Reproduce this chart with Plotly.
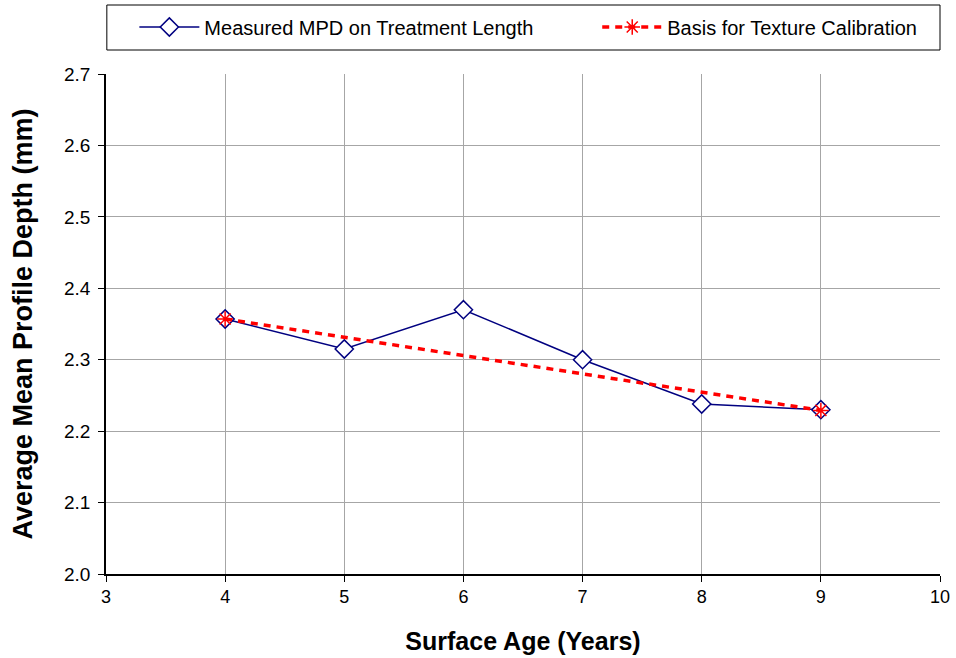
import plotly.graph_objects as go

# Data
age_measured = [4, 5, 6, 7, 8, 9]
mpd_measured = [2.357, 2.315, 2.370, 2.300, 2.238, 2.230]
age_basis = [4, 9]
mpd_basis = [2.357, 2.229]
x_ticks = [3, 4, 5, 6, 7, 8, 9, 10]
y_ticks = [2.0, 2.1, 2.2, 2.3, 2.4, 2.5, 2.6, 2.7]

fig = go.Figure()
fig.add_trace(go.Scatter(
    x=age_measured, y=mpd_measured, mode="lines+markers",
    name="Measured MPD on Treatment Length", legend="legend",
    line=dict(color="#000080", width=1.5),
    marker=dict(symbol="diamond", size=14, color="white",
                line=dict(color="#000080", width=1.5)),
))
fig.add_trace(go.Scatter(
    x=age_basis, y=mpd_basis, mode="lines+markers",
    name="Basis for Texture Calibration", legend="legend2",
    line=dict(color="#FF0000", width=3.5, dash="7px,6px"),
    marker=dict(symbol="asterisk-open", size=13,
                line=dict(color="#FF0000", width=1.5)),
))

legend_common = dict(orientation="h", xanchor="left", y=1.094, yanchor="middle",
                     font=dict(size=20), bgcolor="rgba(0,0,0,0)", borderwidth=0,
                     itemwidth=60)

fig.update_layout(
    width=956, height=658,
    margin=dict(l=106, r=16, t=74, b=84, autoexpand=False),
    paper_bgcolor="white", plot_bgcolor="white",
    font=dict(family="Liberation Sans, Arial, sans-serif", color="black", size=18),
    showlegend=True,
    legend=dict(x=0.034, **legend_common),
    legend2=dict(x=0.589, **legend_common),
    shapes=[dict(type="rect", xref="paper", yref="paper",
                 x0=0.001, x1=1.0, y0=1.048, y1=1.138,
                 line=dict(color="black", width=1))],
)
fig.update_xaxes(
    range=[3, 10], tickvals=x_ticks, ticktext=[str(v) for v in x_ticks],
    showgrid=True, gridcolor="#A6A6A6", gridwidth=1,
    showline=True, linecolor="black", linewidth=1.5,
    ticks="outside", ticklen=6, tickcolor="black",
    zeroline=False, automargin=False,
    tickfont=dict(size=18),
    title=dict(text="<b>Surface Age (Years)</b>", font=dict(size=25), standoff=26),
)
fig.update_yaxes(
    range=[2.0, 2.7], tickvals=y_ticks, ticktext=[f"{v:.1f}" for v in y_ticks],
    showgrid=True, gridcolor="#A6A6A6", gridwidth=1,
    showline=True, linecolor="black", linewidth=1.5,
    ticks="outside", ticklen=6, tickcolor="black",
    zeroline=False, automargin=False, ticklabelstandoff=4,
    tickfont=dict(size=19),
    title=dict(text="<b>Average Mean Profile Depth (mm)</b>", font=dict(size=27), standoff=24),
)

fig.write_html("out.html", config={"displayModeBar": False},
               post_script="document.body.style.margin='0';")
